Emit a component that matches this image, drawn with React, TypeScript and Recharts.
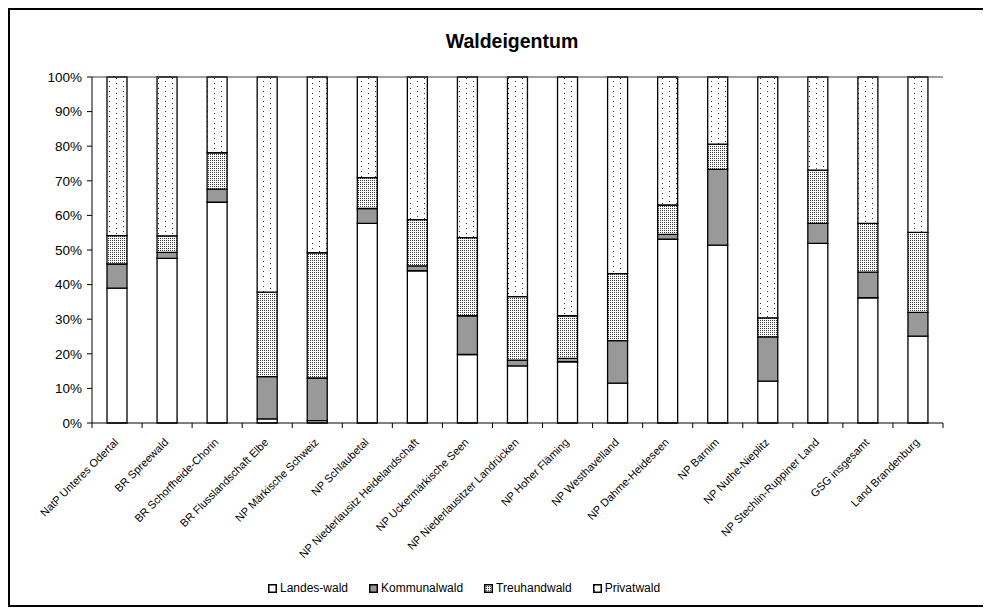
import React from "react";
import { BarChart, Bar, XAxis, YAxis, ReferenceLine, Legend } from "recharts";

const categories = [
  "NatP Unteres Odertal",
  "BR Spreewald",
  "BR Schorfheide-Chorin",
  "BR Flusslandschaft Elbe",
  "NP Märkische Schweiz",
  "NP Schlaubetal",
  "NP Niederlausitz Heidelandschaft",
  "NP Uckermärkische Seen",
  "NP Niederlausitzer Landrücken",
  "NP Hoher Fläming",
  "NP Westhavelland",
  "NP Dahme-Heideseen",
  "NP Barnim",
  "NP Nuthe-Nieplitz",
  "NP Stechlin-Ruppiner Land",
  "GSG insgesamt",
  "Land Brandenburg",
];

const landesWald = [39, 47.6, 63.8, 1.2, 0.7, 57.7, 44, 19.8, 16.5, 17.7, 11.5, 53.1, 51.4, 12.1, 51.9, 36.2, 25.1];
const kommunalWald = [7, 1.7, 3.8, 12.2, 12.3, 4.3, 1.4, 11.2, 1.7, 1.0, 12.3, 1.4, 21.9, 12.8, 5.8, 7.4, 6.9];
const treuhandWald = [8.2, 4.8, 10.5, 24.4, 36.2, 8.9, 13.4, 22.6, 18.3, 12.3, 19.4, 8.5, 7.3, 5.5, 15.4, 14.1, 23.1];
const privatWald = [45.9, 45.9, 21.9, 62.2, 50.8, 29.1, 41.2, 46.4, 63.5, 69, 56.8, 37, 19.4, 69.6, 26.9, 42.3, 44.9];

const yTicks = [0, 0.1, 0.2, 0.3, 0.4, 0.5, 0.6, 0.7, 0.8, 0.9, 1];

const series = [
  { key: "Landes-wald", values: landesWald, fill: "#ffffff" },
  { key: "Kommunalwald", values: kommunalWald, fill: "#999999" },
  { key: "Treuhandwald", values: treuhandWald, fill: "url(#treuDots)" },
  { key: "Privatwald", values: privatWald, fill: "url(#privDots)" },
];

const data = categories.map((name, i) => {
  const row: Record<string, string | number> = { name };
  series.forEach((s) => (row[s.key] = s.values[i]));
  return row;
});

const FONT = "Arial, 'Liberation Sans', sans-serif";

function CategoryTick(props: any) {
  const { x, y, payload, index } = props;
  const half = payload?.offset ?? 25;
  const ax = x + 2;
  const ay = y + 20;
  return (
    <g>
      <line x1={x + half} x2={x + half} y1={y} y2={y + 5} stroke="#000" />
      {index === 0 && <line x1={x - half} x2={x - half} y1={y} y2={y + 5} stroke="#000" />}
      <text x={ax} y={ay} transform={`rotate(-45 ${ax} ${ay})`} textAnchor="end" fontSize={11} fill="#000" fontFamily={FONT}>
        {payload.value}
      </text>
    </g>
  );
}

function LegendContent() {
  return (
    <div style={{ display: "flex", alignItems: "center", height: 16, paddingLeft: 258, fontSize: 12, fontFamily: FONT, color: "#000" }}>
      {series.map((s) => (
        <div key={s.key} style={{ display: "flex", alignItems: "center", marginRight: 21 }}>
          <svg width={9} height={9} style={{ display: "block" }}>
            <rect x={0.75} y={0.75} width={7.5} height={7.5} fill={s.fill} stroke="#000" strokeWidth={1.5} />
          </svg>
          <span style={{ marginLeft: 3 }}>{s.key}</span>
        </div>
      ))}
    </div>
  );
}

export default function App() {
  return (
    <div
      style={{
        position: "relative",
        width: 982,
        height: 599,
        boxSizing: "border-box",
        border: "2px solid #000",
        background: "#fff",
        fontFamily: FONT,
      }}
    >
      <div
        style={{
          position: "absolute",
          top: 21,
          left: 0,
          width: 1004,
          textAlign: "center",
          fontSize: 19.5,
          lineHeight: "20px",
          fontWeight: "bold",
          color: "#000",
        }}
      >
        Waldeigentum
      </div>
      <BarChart
        width={978}
        height={595}
        data={data}
        stackOffset="expand"
        barSize={20}
        margin={{ top: 67, right: 45, left: 0, bottom: 9 }}
      >
        <defs>
          <pattern id="treuDots" width={2} height={2} patternUnits="userSpaceOnUse">
            <rect width={2} height={2} fill="#ffffff" />
            <rect width={1} height={1} fill="#3a3a3a" />
          </pattern>
          <pattern id="privDots" width={14} height={5} patternUnits="userSpaceOnUse">
            <rect width={14} height={5} fill="#ffffff" />
            <rect x={1} y={1} width={1} height={1} fill="#333333" />
            <rect x={8} y={3} width={1} height={1} fill="#333333" />
          </pattern>
        </defs>
        <XAxis
          dataKey="name"
          interval={0}
          height={157}
          tickLine={false}
          tickSize={0}
          tickMargin={0}
          axisLine={{ stroke: "#000" }}
          tick={<CategoryTick />}
        />
        <YAxis
          domain={[0, 1]}
          ticks={yTicks}
          width={82}
          tickSize={5}
          tickMargin={5}
          axisLine={{ stroke: "#000" }}
          tickLine={{ stroke: "#000" }}
          tick={{ fontSize: 13.5, fill: "#000", fontFamily: FONT }}
          tickFormatter={(v: number) => `${Math.round(v * 100)}%`}
        />
        <YAxis
          yAxisId="frame"
          orientation="right"
          width={0}
          domain={[0, 1]}
          tick={false}
          tickLine={false}
          axisLine={{ stroke: "#808080" }}
        />
        <ReferenceLine y={1} stroke="#404040" />
        <Legend verticalAlign="bottom" content={<LegendContent />} />
        {series.map((s) => (
          <Bar
            key={s.key}
            dataKey={s.key}
            stackId="a"
            fill={s.fill}
            stroke="#000"
            strokeWidth={1.3}
            isAnimationActive={false}
          />
        ))}
      </BarChart>
    </div>
  );
}
